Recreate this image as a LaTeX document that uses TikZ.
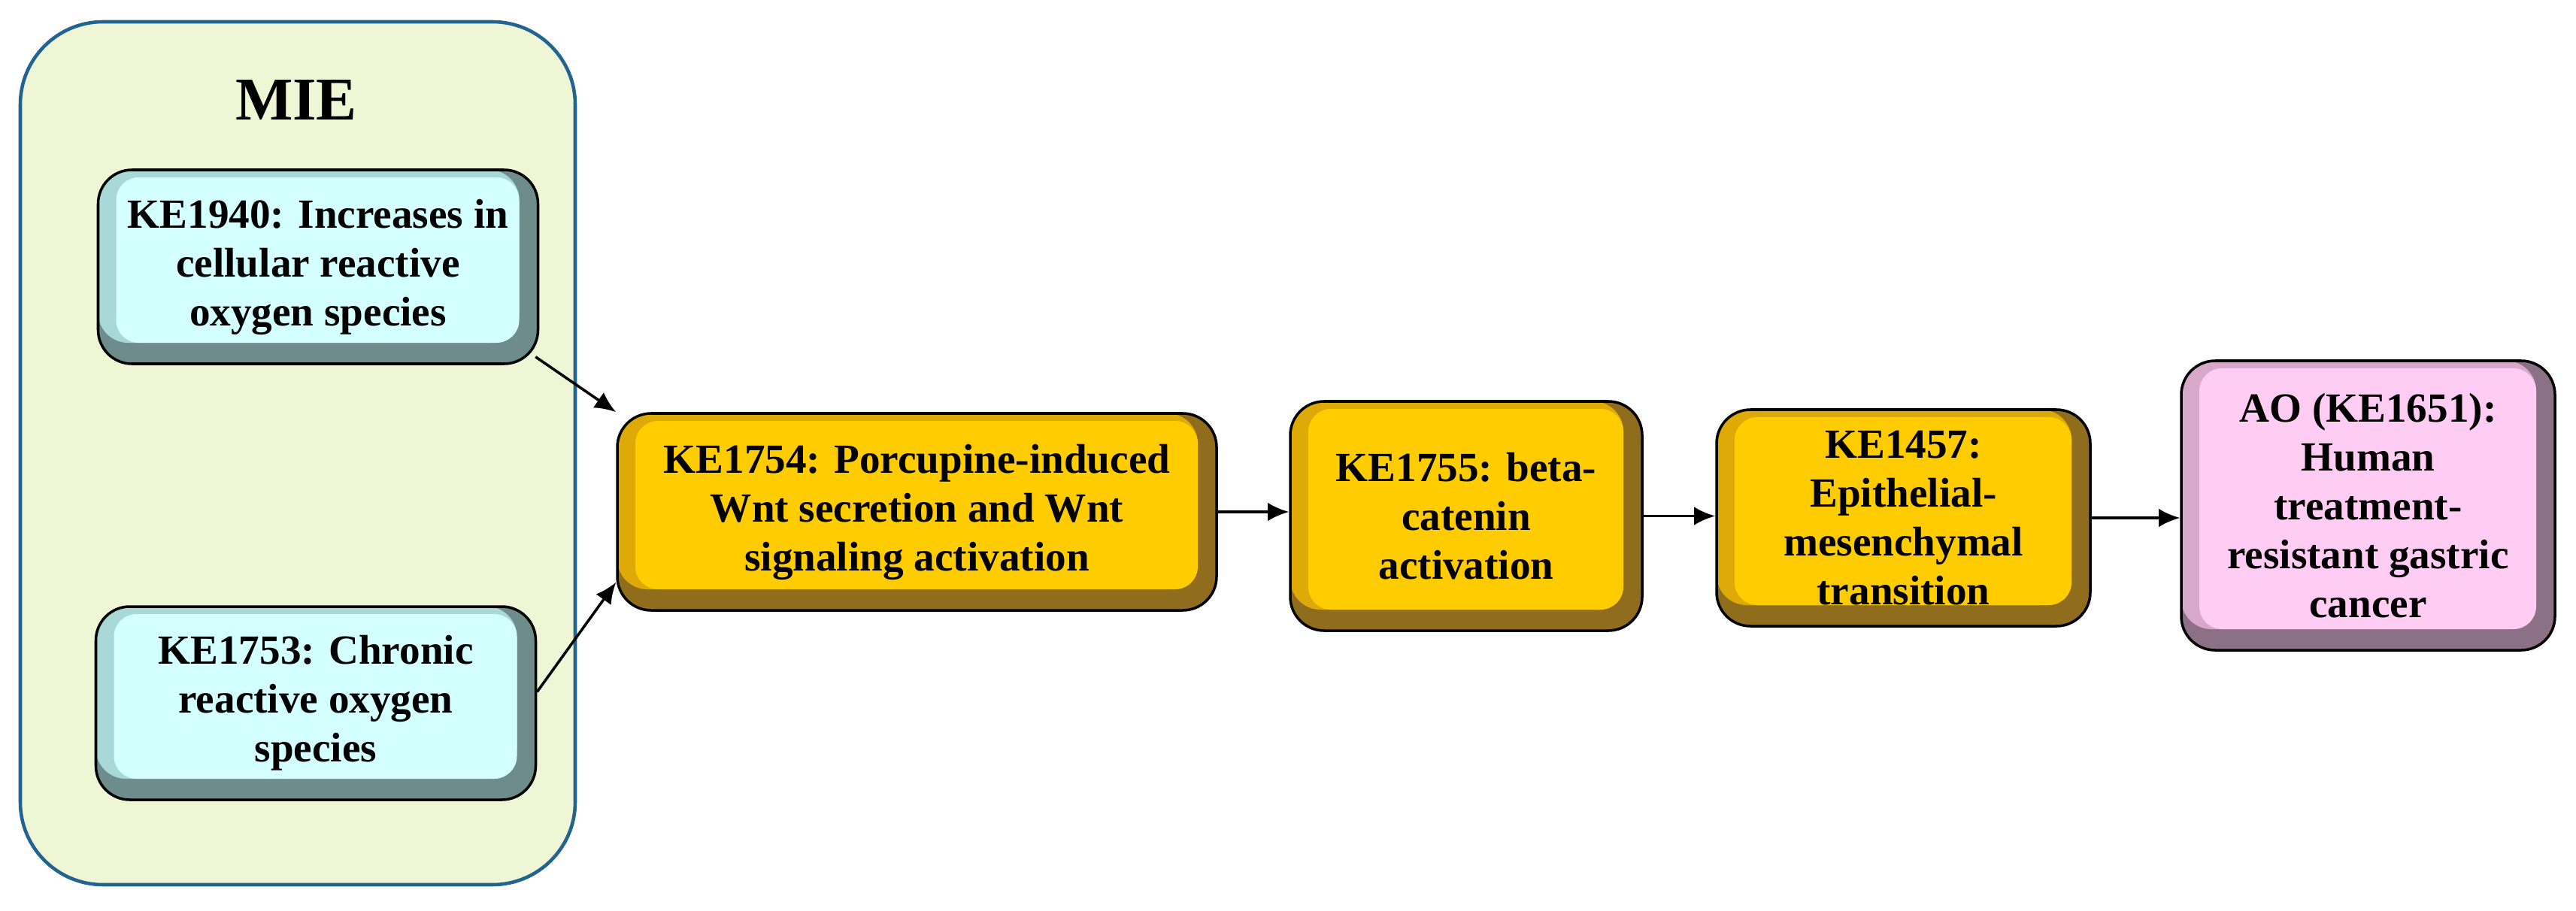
\documentclass[tikz,border=0pt]{standalone}
\usepackage{fontspec}
\setmainfont{Liberation Serif}
\usepackage{tikz}
\usetikzlibrary{arrows.meta}

\definecolor{mieback}{HTML}{EEF6D6}
\definecolor{mieline}{HTML}{22638F}
\definecolor{blueface}{HTML}{D4FFFF}
\definecolor{bluemid}{HTML}{A8D8D8}
\definecolor{bluedark}{HTML}{6F8C8C}
\definecolor{goldface}{HTML}{FFCC00}
\definecolor{goldmid}{HTML}{DDAA08}
\definecolor{golddark}{HTML}{8F6D1C}
\definecolor{pinkface}{HTML}{FFCCF4}
\definecolor{pinkmid}{HTML}{D8A8CA}
\definecolor{pinkdark}{HTML}{8C7085}

\newcommand{\kefont}{\bfseries\fontsize{15.7}{18.5}\selectfont}

\tikzset{
  kebox/.style n args={3}{draw=black, line width=1pt, fill=#3, rounded corners=0.45cm,
    align=center, inner sep=0pt, font=\kefont,
    path picture={
      \fill[#2, rounded corners=0.4cm] (path picture bounding box.north west)
        rectangle ([shift={(-0.25,0.28)}]path picture bounding box.south east);
      \fill[#1, rounded corners=0.3cm] ([shift={(0.24,-0.1)}]path picture bounding box.north west)
        rectangle ([shift={(-0.25,0.28)}]path picture bounding box.south east);
    }},
  bluebox/.style={kebox={blueface}{bluemid}{bluedark}},
  goldbox/.style={kebox={goldface}{goldmid}{golddark}},
  pinkbox/.style={kebox={pinkface}{pinkmid}{pinkdark}},
}

\begin{document}
\begin{tikzpicture}[>={Latex[length=8pt,width=7pt]}]
  \useasboundingbox (0,0) rectangle (34.26,12.11);
  \node (mie) [draw=mieline, fill=mieback, line width=1.3pt, rounded corners=1.1cm,
    minimum width=7.38cm, minimum height=11.48cm] at (3.96,6.08) {};
  \node (mietitle) [font=\bfseries\fontsize{23}{26}\selectfont] at (3.94,10.78) {MIE};

  \node (ke1940) [bluebox, minimum width=5.85cm, minimum height=2.58cm] at (4.23,8.56)
    {KE1940: Increases in\\ cellular reactive\\ oxygen species};
  \node (ke1753) [bluebox, minimum width=5.85cm, minimum height=2.57cm] at (4.2,2.755)
    {KE1753: Chronic\\ reactive oxygen\\ species};
  \node (ke1754) [goldbox, minimum width=7.97cm, minimum height=2.62cm] at (12.195,5.30)
    {KE1754: Porcupine-induced\\ Wnt secretion and Wnt\\ signaling activation};
  \node (ke1755) [goldbox, minimum width=4.68cm, minimum height=3.05cm] at (19.50,5.245)
    {KE1755: beta-\\ catenin\\ activation};
  \node (ke1457) [goldbox, minimum width=4.97cm, minimum height=2.88cm] at (25.315,5.22)
    {KE1457:\\ Epithelial-\\ mesenchymal\\ transition};
  \node (ao) [pinkbox, minimum width=4.97cm, minimum height=3.85cm] at (31.495,5.385)
    {AO (KE1651):\\ Human\\ treatment-\\ resistant gastric\\ cancer};

  \path[->, line width=1pt]
  ([shift={(-0.05,0.11)}]ke1940.south east) edge (ke1754.north west)
  ([yshift=0.15cm]ke1753.east) edge ([yshift=0.39cm]ke1754.south west)
  (ke1754.east) edge (ke1754.east -| ke1755.west)
  (ke1755.east) edge (ke1755.east -| ke1457.west)
  (ke1457.east) edge (ke1457.east -| ao.west)
  ;
\end{tikzpicture}
\end{document}
